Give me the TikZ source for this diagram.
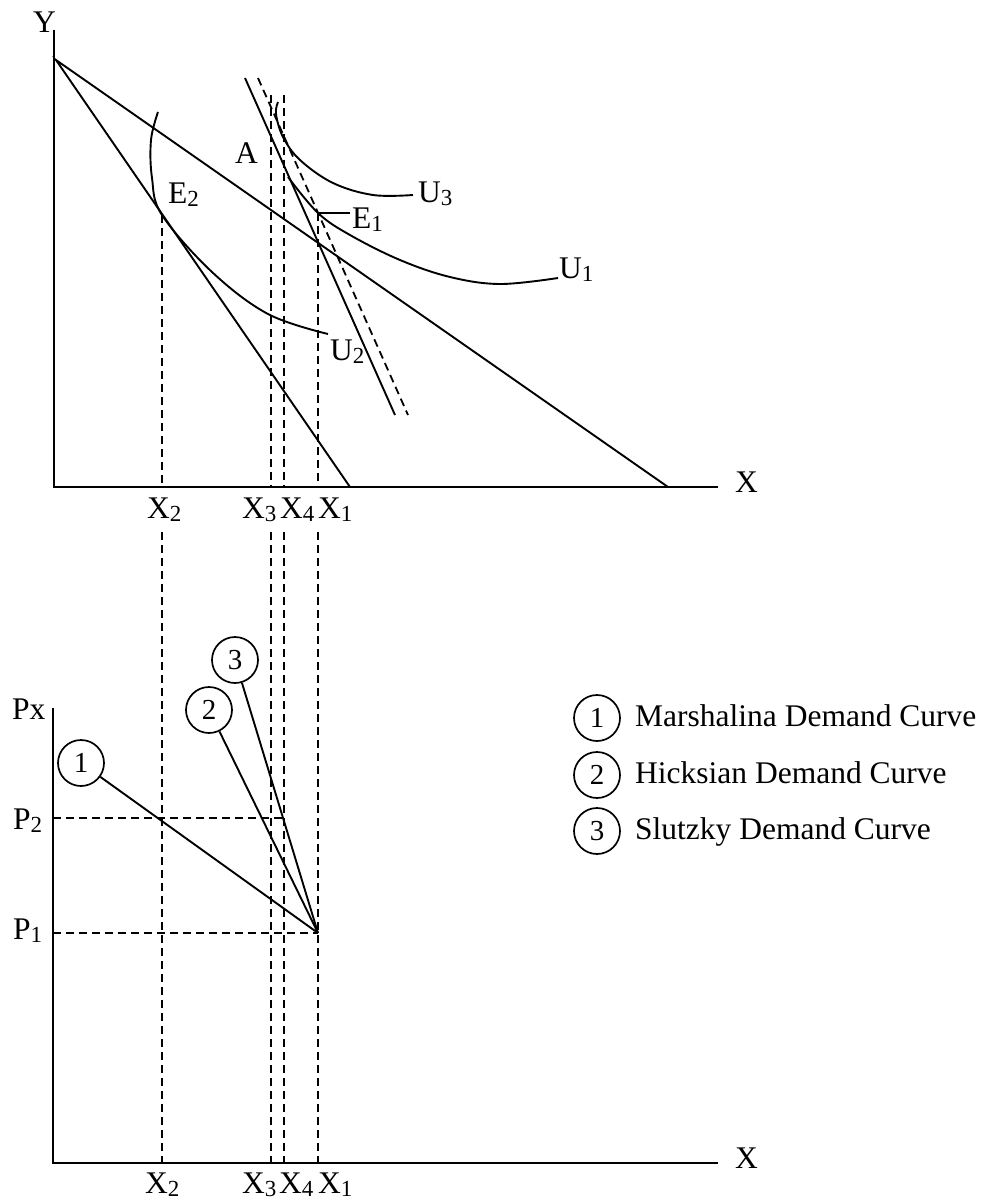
\documentclass[tikz,border=0pt]{standalone}
\usepackage{fontspec}
\setmainfont{Liberation Serif}
\usetikzlibrary{positioning}
\newcommand{\lbl}[2]{#1\raisebox{-0.1em}{\fontsize{23}{23}\selectfont #2}}
\tikzset{
  ln/.style={line width=1.9pt},
  dsh/.style={line width=1.8pt,dash pattern=on 8pt off 5pt},
  tx/.style={font=\fontsize{31.5}{36}\selectfont,inner sep=0pt,anchor=base west},
  num/.style={circle,draw,line width=1.7pt,minimum size=46pt,inner sep=0pt,font=\fontsize{29}{29}\selectfont}
}
\begin{document}
\begin{tikzpicture}[x=1pt,y=-1pt]
\useasboundingbox (0,0) rectangle (985,1202);
% upper panel: indifference map
\coordinate (O) at (54,487);
\coordinate (Ytop) at (54,30);
\coordinate (Xend) at (718,487);
\draw[ln] (Ytop) -- (O) -- (Xend);
\node[tx] (ylab) at (33,32) {Y};
\node[tx] (xlab) at (735,492) {X};
\coordinate (B0) at (56,60);
\coordinate (B1) at (668,487);
\coordinate (B2) at (350,487);
\draw[ln] (B1) -- (B0) -- (B2);
\coordinate (S0) at (245,78);
\coordinate (S1) at (395,415);
\coordinate (H0) at (258,78);
\coordinate (H1) at (408,415);
\draw[ln] (S0) -- (S1);
\draw[dsh] (H0) -- (H1);
\draw[ln] plot[smooth,tension=0.6] coordinates {(158,112) (151,140) (152,178) (162,215) (212,272) (268,314) (328,334)};
\draw[ln] plot[smooth,tension=0.6] coordinates {(288,177) (318,213) (350,235) (400,260) (450,277) (500,284) (558,278)};
\draw[ln] plot[smooth,tension=0.6] coordinates {(278,102) (276,114) (283,137) (300,160) (333,183) (373,195) (413,195)};
\node[tx] (u3) at (418,202) {\lbl{U}{3}};
\node[tx] (u1) at (559,278) {\lbl{U}{1}};
\node[tx] (u2) at (330,360) {\lbl{U}{2}};
\node[tx] (alab) at (235,163) {A};
\node[tx] (e2) at (168,203) {\lbl{E}{2}};
\node[tx] (e1) at (352,228) {\lbl{E}{1}};
\coordinate (E1) at (318,213);
\coordinate (E2) at (162,215);
\draw[ln] (E1) -- ++(32,0);
\draw[dsh] (E2) -- (162,487);
\draw[dsh] (271,95) -- (271,487);
\draw[dsh] (284,95) -- (284,487);
\draw[dsh] (E1) -- (318,487);
\node[tx] at (147,518) {\lbl{X}{2}};
\node[tx] at (242,518) {\lbl{X}{3}};
\node[tx] at (280,518) {\lbl{X}{4}};
\node[tx] at (318,518) {\lbl{X}{1}};
% lower panel: demand curves
\coordinate (Q) at (53,1163);
\coordinate (Ptop) at (53,708);
\coordinate (Xend2) at (718,1163);
\draw[ln] (Ptop) -- (Q) -- (Xend2);
\node[tx] at (12,719) {Px};
\node[tx] at (735,1168) {X};
\foreach \x in {162,271,284,318}{\draw[dsh] (\x,532) -- (\x,1163);}
\draw[dsh] (53,818) -- (284,818);
\draw[dsh] (53,933) -- (318,933);
\node[tx] at (13,829) {\lbl{P}{2}};
\node[tx] at (13,939) {\lbl{P}{1}};
\node[tx] at (145,1193) {\lbl{X}{2}};
\node[tx] at (242,1193) {\lbl{X}{3}};
\node[tx] at (279,1193) {\lbl{X}{4}};
\node[tx] at (318,1193) {\lbl{X}{1}};
\coordinate (D) at (318,933);
\node[num] (c1) at (81,763) {1};
\node[num] (c2) at (209,710) {2};
\node[num] (c3) at (235,660) {3};
\draw[ln] (c1) -- (D);
\draw[ln] (c2) -- (D);
\draw[ln] (c3) -- (D);
% legend
\node[num] (l1) at (597,718) {1};
\node[num] (l2) at (597,775) {2};
\node[num] (l3) at (597,831) {3};
\node[tx] at (635,726) {Marshalina Demand Curve};
\node[tx] at (635,783) {Hicksian Demand Curve};
\node[tx] at (635,839) {Slutzky Demand Curve};
\end{tikzpicture}
\end{document}
